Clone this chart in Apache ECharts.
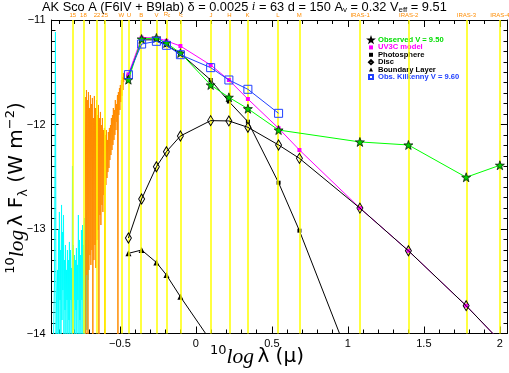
<!DOCTYPE html>
<html><head><meta charset="utf-8">
<script src="https://cdn.jsdelivr.net/npm/echarts@6/dist/echarts.min.js"></script>
<style>html,body{margin:0;padding:0;background:#fff}#c{width:509px;height:373px}</style>
</head><body><div id="c"></div>
<script>
// Photometric bands (log10 wavelength in micron)
const bandNames = ['15','18','22','25','W','U','B','V','Rc','Ic','J','H','K','L','M','IRAS-1','IRAS-2','IRAS-3','IRAS-4'];
const bandLogLam = [-0.810,-0.745,-0.647,-0.602,-0.488,-0.444,-0.357,-0.260,-0.194,-0.102,0.097,0.217,0.342,0.544,0.681,1.079,1.398,1.778,2.000];

// Photometric points at U,B,V,Rc,Ic,J,H,K,L,M,IRAS-1..4
const photX = [-0.444,-0.357,-0.260,-0.194,-0.102,0.097,0.217,0.342,0.544,0.681,1.079,1.398,1.778,2.000];
const observed = [-11.571,-11.182,-11.172,-11.220,-11.316,-11.622,-11.740,-11.849,-12.053,null,-12.167,-12.196,-12.505,-12.390];
const uv3cModel = [-11.520,-11.170,-11.170,-11.200,-11.249,-11.431,-11.574,-11.756,-12.036,-12.244,-12.800,-13.208,-13.734,-14.070];
const photosphere = [-11.540,-11.190,-11.190,-11.240,-11.320,-11.574,-11.780,-11.973,-12.557,-13.016,-14.500,null,null,null];
const disc = [-13.086,-12.713,-12.404,-12.260,-12.110,-11.963,-11.966,-12.027,-12.196,-12.324,-12.800,-13.208,-13.734,-14.070];
const boundaryLayer = [-13.233,-13.201,-13.320,-13.440,-13.648,-14.070,null,null,null,null,null,null,null,null];
const kilkenny = [-11.523,-11.230,-11.204,-11.242,-11.332,-11.456,-11.574,-11.663,-11.893,null,null,null,null,null];

// IUE spectra [log lambda, log lambda*F]
const cyanSpec = [[-0.937,-14.062],[-0.930,-13.488],[-0.924,-11.115],[-0.920,-14.062],[-0.917,-13.679],[-0.911,-13.392],[-0.907,-14.062],[-0.904,-13.010],[-0.901,-14.014],[-0.898,-12.837],[-0.894,-13.679],[-0.891,-13.201],[-0.888,-14.062],[-0.884,-12.770],[-0.881,-13.871],[-0.878,-13.029],[-0.875,-13.584],[-0.871,-12.866],[-0.868,-14.043],[-0.865,-13.297],[-0.861,-13.775],[-0.858,-13.153],[-0.855,-14.062],[-0.852,-13.392],[-0.848,-13.679],[-0.845,-13.201],[-0.842,-14.043],[-0.838,-13.297],[-0.835,-13.871],[-0.832,-13.124],[-0.829,-14.062],[-0.825,-13.201],[-0.822,-13.679],[-0.819,-13.373],[-0.815,-14.062],[-0.812,-12.397],[-0.809,-13.967],[-0.806,-13.153],[-0.802,-13.679],[-0.799,-13.249],[-0.796,-14.062],[-0.792,-13.297],[-0.789,-13.775],[-0.786,-13.182],[-0.783,-14.043],[-0.779,-13.344],[-0.776,-13.679],[-0.773,-12.866],[-0.769,-14.062],[-0.766,-13.105],[-0.763,-13.871],[-0.760,-13.249],[-0.756,-14.043],[-0.753,-13.010],[-0.750,-13.679],[-0.746,-12.962],[-0.743,-14.062],[-0.740,-13.153],[-0.736,-13.584],[-0.733,-12.895],[-0.730,-14.043],[-0.727,-13.105],[-0.724,-13.679],[-0.720,-12.818],[-0.717,-13.967],[-0.714,-13.201],[-0.710,-13.488],[-0.707,-13.105]];
const orangeSpec = [[-0.727,-11.737],[-0.724,-14.043],[-0.720,-11.670],[-0.717,-13.440],[-0.714,-11.766],[-0.710,-14.043],[-0.707,-11.689],[-0.704,-13.392],[-0.700,-11.842],[-0.697,-13.249],[-0.694,-11.718],[-0.691,-13.344],[-0.687,-11.804],[-0.684,-13.201],[-0.681,-11.746],[-0.678,-14.043],[-0.674,-11.938],[-0.671,-13.297],[-0.668,-11.727],[-0.664,-13.153],[-0.661,-11.842],[-0.658,-13.373],[-0.654,-11.766],[-0.651,-13.105],[-0.648,-11.909],[-0.645,-13.010],[-0.641,-11.813],[-0.638,-14.043],[-0.635,-11.938],[-0.631,-12.866],[-0.628,-11.880],[-0.625,-12.962],[-0.622,-12.005],[-0.618,-12.770],[-0.615,-11.938],[-0.612,-12.837],[-0.608,-12.053],[-0.605,-12.675],[-0.602,-12.033],[-0.599,-14.043],[-0.595,-12.100],[-0.592,-12.579],[-0.589,-12.053],[-0.585,-12.512],[-0.582,-12.148],[-0.579,-12.455],[-0.576,-12.072],[-0.572,-12.416],[-0.569,-12.033],[-0.566,-12.340],[-0.562,-12.005],[-0.559,-12.292],[-0.556,-11.938],[-0.552,-12.244],[-0.549,-11.909],[-0.546,-12.196],[-0.543,-11.842],[-0.539,-12.148],[-0.536,-11.861],[-0.533,-12.100],[-0.530,-11.766],[-0.526,-12.053],[-0.523,-11.804],[-0.520,-11.976],[-0.516,-11.718],[-0.513,-14.024],[-0.510,-11.689],[-0.507,-11.909],[-0.503,-11.651],[-0.500,-11.861],[-0.497,-11.622],[-0.493,-11.785],[-0.490,-11.574],[-0.487,-11.727],[-0.483,-11.545],[-0.480,-11.670],[-0.477,-11.507],[-0.474,-11.593]];

// Axis ticks
const xMajor = [-0.5, 0, 0.5, 1, 1.5, 2];
const xMinor = [];
for (let k = -9; k <= 20; k++) xMinor.push(k / 10);

function pairs(ys) {
  const out = [];
  ys.forEach((y, i) => { if (y !== null) out.push([photX[i], y]); });
  return out;
}
const minus = v => (v < 0 ? '\u2212' : '') + Math.abs(v);
const starPath = 'path://M0,-10L2.35,-3.24L9.51,-3.09L3.8,1.24L5.88,8.09L0,4L-5.88,8.09L-3.8,1.24L-9.51,-3.09L-2.35,-3.24Z';
const XMIN = -0.95, XMAX = 2.05;

const chart = echarts.init(document.getElementById('c'), null, {renderer: 'canvas'});

function xAx(pos, major, showLine) {
  return {
    type: 'value', min: XMIN, max: XMAX, position: pos,
    axisLine: {show: showLine, onZero: false, lineStyle: {color: '#000', width: 1}},
    splitLine: {show: false},
    axisTick: {show: true, inside: true, length: major ? 7 : 4, customValues: major ? xMajor : xMinor, lineStyle: {color: '#000'}},
    axisLabel: {show: pos === 'bottom' && major, customValues: xMajor, formatter: minus, color: '#000', fontSize: 11, fontFamily: 'Liberation Sans', margin: 5}
  };
}
function yAx(pos) {
  return {
    type: 'value', min: -14, max: -11, interval: 1, position: pos,
    axisLine: {show: true, onZero: false, lineStyle: {color: '#000', width: 1}},
    splitLine: {show: false},
    axisTick: {show: true, inside: true, length: 7, lineStyle: {color: '#000'}},
    minorTick: {show: true, splitNumber: 10, length: 4, lineStyle: {color: '#000'}},
    minorSplitLine: {show: false},
    axisLabel: {show: pos === 'left', formatter: minus, color: '#000', fontSize: 11, fontFamily: 'Liberation Sans', margin: 6}
  };
}

const bandLabelRich = {a: {fontSize: 6, color: '#ff8c00', fontFamily: 'Liberation Sans'}, s: {fontSize: 4.5, color: '#ff8c00', verticalAlign: 'bottom', padding: [3, 0, 0, 0]}};

const option = {
  animation: false,
  backgroundColor: '#fff',
  title: {
    left: 42, top: 0, padding: 0,
    text: 'AK Sco A (F6IV + B9Iab) \u03b4 = 0.0025 {i|i} = 63 d = 150 A{s|v} = 0.32 V{s|eff} = 9.51',
    textStyle: {fontSize: 12.8, fontWeight: 'normal', color: '#000', fontFamily: 'Liberation Sans',
      rich: {i: {fontSize: 12.8, fontStyle: 'italic', fontFamily: 'Liberation Serif'}, s: {fontSize: 8, verticalAlign: 'bottom', padding: [6, 0, 0, 0]}}}
  },
  grid: {left: 51.5, right: 1.5, top: 20, bottom: 39.5, containLabel: false, outerBoundsMode: 'none'},
  xAxis: [xAx('bottom', true, true), xAx('bottom', false, false), xAx('top', true, true), xAx('top', false, false)],
  yAxis: [yAx('left'), yAx('right')],
  legend: {
    orient: 'vertical', left: 368, top: 36, padding: 0, itemWidth: 4, itemHeight: 4, itemGap: -0.6,
    selectedMode: false,
    textStyle: {fontSize: 7.6, fontWeight: 'bold', fontFamily: 'Liberation Sans', lineHeight: 7},
    data: [
      {name: 'Observed V = 9.50', icon: starPath, textStyle: {color: '#00dd00'}},
      {name: 'UV3C model', icon: 'rect', textStyle: {color: '#ff00ff'}},
      {name: 'Photosphere', icon: 'rect', textStyle: {color: '#000'}},
      {name: 'Disc', icon: 'diamond', textStyle: {color: '#000'}},
      {name: 'Boundary Layer', icon: 'triangle', textStyle: {color: '#000'}},
      {name: 'Obs. Kilkenny V = 9.60', icon: 'rect', textStyle: {color: '#2040ff'}}
    ]
  },
  graphic: [
    {type: 'text', x: 257, y: 357, silent: true, style: {
      text: '{sup|10}{it|log} {m|\u03bb (\u03bc)}', align: 'center', verticalAlign: 'middle',
      rich: {sup: {fontSize: 13, verticalAlign: 'top', fontFamily: 'DejaVu Sans', lineHeight: 26},
             it: {fontSize: 21.5, fontStyle: 'italic', fontFamily: 'Liberation Serif', lineHeight: 26},
             m: {fontSize: 20, fontFamily: 'DejaVu Sans', lineHeight: 26}}}},
    {type: 'text', x: 17, y: 188, rotation: Math.PI / 2, silent: true, style: {
      text: '{sup|10}{it|log} {m|\u03bb F}{sub|\u03bb}{m| (W m}{sup|\u22122}{m|)}', align: 'center', verticalAlign: 'middle',
      rich: {sup: {fontSize: 13, verticalAlign: 'top', fontFamily: 'DejaVu Sans', lineHeight: 26},
             sub: {fontSize: 13, verticalAlign: 'bottom', fontFamily: 'DejaVu Sans', lineHeight: 26},
             it: {fontSize: 21.5, fontStyle: 'italic', fontFamily: 'Liberation Serif', lineHeight: 26},
             m: {fontSize: 20, fontFamily: 'DejaVu Sans', lineHeight: 26}}}}
  ],
  series: [
    {
      name: 'bands', type: 'line', data: [], z: 1, silent: true,
      markLine: {
        silent: true, symbol: ['none', 'none'], animation: false,
        lineStyle: {color: '#ffff00', width: 1.5, type: 'solid'},
        emphasis: {disabled: true},
        label: {show: true, position: 'end', distance: 2,
          formatter: p => p.name === 'Rc' ? '{a|R}{s|c}' : (p.name === 'Ic' ? '{a|I}{s|c}' : '{a|' + p.name + '}'),
          rich: bandLabelRich},
        data: bandNames.map((n, i) => ({name: n, xAxis: bandLogLam[i]}))
      }
    },
    {name: 'cyan', type: 'line', data: cyanSpec, z: 2, silent: true, showSymbol: false, symbol: 'none',
      lineStyle: {color: '#00ffff', width: 1}, itemStyle: {color: '#00ffff'}},
    {name: 'orange', type: 'line', data: orangeSpec, z: 3, silent: true, showSymbol: false, symbol: 'none',
      lineStyle: {color: '#ff8c00', width: 1}, itemStyle: {color: '#ff8c00'}},
    {name: 'Photosphere', type: 'line', data: pairs(photosphere), z: 4, symbol: 'rect', symbolSize: 4,
      lineStyle: {color: '#000', width: 1}, itemStyle: {color: '#000'}},
    {name: 'Boundary Layer', type: 'line', data: pairs(boundaryLayer), z: 4, symbol: 'triangle', symbolSize: 6,
      lineStyle: {color: '#000', width: 1}, itemStyle: {color: '#000'}},
    {name: 'UV3C model', type: 'line', data: pairs(uv3cModel), z: 5, symbol: 'rect', symbolSize: 4,
      lineStyle: {color: '#ff00ff', width: 1}, itemStyle: {color: '#ff00ff'}},
    {name: 'Disc', type: 'line', data: pairs(disc), z: 6, symbol: 'diamond', symbolSize: [6, 10],
      lineStyle: {color: '#000', width: 1}, itemStyle: {color: 'rgba(255,255,255,0)', borderColor: '#000', borderWidth: 1}},
    {name: 'Observed V = 9.50', type: 'line', data: pairs(observed), z: 7, symbol: starPath, symbolSize: 9,
      lineStyle: {color: '#00ff00', width: 1}, itemStyle: {color: '#00cc00', borderColor: '#000', borderWidth: 0.7}},
    {name: 'Obs. Kilkenny V = 9.60', type: 'line', data: pairs(kilkenny), z: 8, symbol: 'rect', symbolSize: 8,
      lineStyle: {color: '#2040ff', width: 1}, itemStyle: {color: 'rgba(255,255,255,0)', borderColor: '#2040ff', borderWidth: 1}}
  ]
};
chart.setOption(option);
</script></body></html>
